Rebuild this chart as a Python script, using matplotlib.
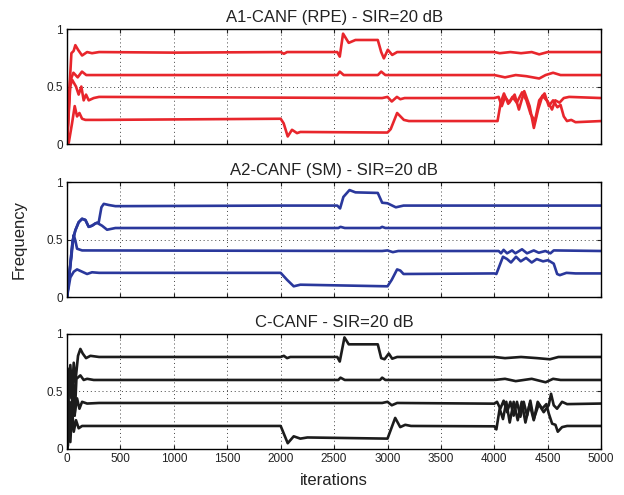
import matplotlib
matplotlib.use("Agg")
import matplotlib.pyplot as plt

plt.rcParams['font.family'] = ['Liberation Sans', 'DejaVu Sans']

# ---- data: (iteration, normalised frequency) ----
titles = ['A1-CANF (RPE) - SIR=20 dB', 'A2-CANF (SM) - SIR=20 dB', 'C-CANF - SIR=20 dB']
colors = ['#e8262c', '#2a389c', '#1c1c1c']
xticks = [0, 500, 1000, 1500, 2000, 2500, 3000, 3500, 4000, 4500, 5000]
yticks = [0, 0.5, 1]
ytick_labels = ['0', '0.5', '1']

rpe_f1 = [(0, 0), (22, 0.47), (41, 0.79), (62, 0.81), (78, 0.86), (103, 0.82), (141, 0.77), (188, 0.80),
          (234, 0.79), (300, 0.80), (1000, 0.795), (2000, 0.80), (2030, 0.785), (2060, 0.80), (2530, 0.80),
          (2553, 0.76), (2584, 0.96), (2637, 0.88), (2700, 0.905), (2909, 0.905), (2941, 0.80), (2966, 0.745),
          (3003, 0.82), (3044, 0.775), (3090, 0.80), (4000, 0.80), (4050, 0.79), (4150, 0.80), (4250, 0.79),
          (4350, 0.80), (4420, 0.78), (4500, 0.80), (4600, 0.80), (5000, 0.80)]
rpe_f2 = [(0, 0), (30, 0.55), (60, 0.62), (100, 0.58), (140, 0.63), (180, 0.60), (300, 0.60), (2530, 0.60),
          (2553, 0.63), (2590, 0.60), (2910, 0.60), (2941, 0.63), (2980, 0.60), (4000, 0.60), (4100, 0.58),
          (4200, 0.60), (4300, 0.59), (4420, 0.57), (4480, 0.60), (4550, 0.62), (4620, 0.60), (5000, 0.60)]
rpe_f3 = [(0, 0), (30, 0.50), (47, 0.56), (84, 0.50), (109, 0.43), (134, 0.50), (156, 0.38), (178, 0.43),
          (203, 0.38), (250, 0.40), (300, 0.41), (2950, 0.40), (3000, 0.41), (3040, 0.37), (3088, 0.41),
          (3120, 0.39), (3160, 0.40), (4000, 0.40), (4040, 0.41), (4070, 0.33), (4100, 0.41), (4140, 0.36),
          (4190, 0.43), (4230, 0.30), (4280, 0.46), (4330, 0.33), (4370, 0.14), (4410, 0.30), (4450, 0.42),
          (4500, 0.37), (4540, 0.30), (4570, 0.38), (4610, 0.36), (4650, 0.40), (4700, 0.41), (5000, 0.40)]
rpe_f4 = [(0, 0), (16, 0.01), (47, 0.18), (72, 0.33), (94, 0.24), (116, 0.27), (141, 0.22), (172, 0.21),
          (300, 0.21), (2000, 0.22), (2028, 0.18), (2066, 0.066), (2106, 0.124), (2153, 0.095), (2184, 0.105),
          (3000, 0.10), (3030, 0.13), (3090, 0.27), (3153, 0.21), (3200, 0.20), (4000, 0.20), (4030, 0.20),
          (4060, 0.36), (4090, 0.44), (4130, 0.35), (4170, 0.41), (4210, 0.36), (4260, 0.45), (4300, 0.38),
          (4340, 0.26), (4380, 0.20), (4420, 0.38), (4470, 0.44), (4510, 0.33), (4550, 0.38), (4590, 0.32),
          (4620, 0.34), (4650, 0.24), (4680, 0.20), (4720, 0.21), (4760, 0.19), (5000, 0.20)]

sm_f1 = [(0, 0), (16, 0.14), (41, 0.38), (53, 0.49), (78, 0.58), (109, 0.65), (141, 0.68), (172, 0.67),
         (203, 0.61), (234, 0.62), (266, 0.64), (297, 0.65), (322, 0.78), (344, 0.81), (391, 0.80),
         (453, 0.79), (2000, 0.795), (2530, 0.795), (2556, 0.77), (2587, 0.87), (2644, 0.93), (2700, 0.91),
         (2909, 0.905), (2950, 0.82), (3000, 0.815), (3078, 0.78), (3150, 0.795), (5000, 0.795)]
sm_f2 = [(0, 0), (16, 0.14), (41, 0.38), (53, 0.49), (78, 0.58), (109, 0.65), (141, 0.68), (172, 0.67),
         (203, 0.61), (234, 0.62), (266, 0.64), (281, 0.645), (328, 0.62), (375, 0.585), (453, 0.60),
         (2540, 0.60), (2560, 0.61), (2600, 0.60), (2930, 0.60), (2950, 0.61), (2980, 0.60), (5000, 0.60)]
sm_f3 = [(0, 0), (22, 0.20), (41, 0.35), (53, 0.46), (63, 0.54), (78, 0.49), (94, 0.42), (141, 0.405),
         (2950, 0.40), (3000, 0.405), (3050, 0.39), (3100, 0.40), (4000, 0.40), (4041, 0.40), (4062, 0.38),
         (4087, 0.41), (4119, 0.38), (4166, 0.405), (4197, 0.38), (4259, 0.415), (4306, 0.38), (4369, 0.405),
         (4416, 0.385), (4478, 0.40), (4525, 0.38), (4556, 0.405), (5000, 0.40)]
sm_f4 = [(0, 0), (31, 0.17), (63, 0.22), (94, 0.24), (141, 0.22), (188, 0.20), (234, 0.215), (300, 0.21),
         (2000, 0.21), (2059, 0.15), (2122, 0.093), (2184, 0.107), (3000, 0.093), (3040, 0.15), (3090, 0.24),
         (3120, 0.23), (3150, 0.20), (4000, 0.205), (4019, 0.20), (4056, 0.29), (4081, 0.35), (4119, 0.33),
         (4156, 0.30), (4203, 0.35), (4247, 0.31), (4297, 0.34), (4350, 0.30), (4397, 0.33), (4456, 0.31),
         (4503, 0.32), (4556, 0.29), (4588, 0.20), (4613, 0.19), (4675, 0.21), (4760, 0.205), (5000, 0.205)]

c_f1 = [(0, 0), (16, 0.55), (31, 0.73), (47, 0.50), (63, 0.75), (78, 0.58), (103, 0.81), (125, 0.87),
        (147, 0.83), (178, 0.79), (219, 0.81), (300, 0.80), (2000, 0.80), (2030, 0.81), (2060, 0.79),
        (2090, 0.80), (2530, 0.80), (2553, 0.76), (2597, 0.97), (2637, 0.91), (2909, 0.91), (2941, 0.79),
        (2972, 0.78), (3012, 0.83), (3044, 0.785), (3090, 0.80), (4000, 0.80), (4100, 0.79), (4250, 0.80),
        (4400, 0.79), (4520, 0.78), (4600, 0.80), (5000, 0.80)]
c_f2 = [(0, 0), (22, 0.70), (41, 0.44), (56, 0.67), (72, 0.29), (88, 0.61), (125, 0.64), (156, 0.60),
        (188, 0.61), (250, 0.60), (2540, 0.60), (2560, 0.62), (2600, 0.60), (2930, 0.60), (2950, 0.62),
        (2980, 0.60), (4000, 0.60), (4100, 0.61), (4200, 0.59), (4350, 0.61), (4480, 0.58), (4550, 0.61),
        (4620, 0.60), (5000, 0.60)]
c_f3 = [(0, 0), (9, 0.03), (22, 0.41), (38, 0.18), (53, 0.55), (69, 0.29), (94, 0.44), (116, 0.35),
        (141, 0.41), (188, 0.395), (300, 0.40), (2950, 0.40), (3000, 0.41), (3040, 0.38), (3090, 0.40),
        (4000, 0.394), (4025, 0.41), (4056, 0.35), (4087, 0.42), (4119, 0.32), (4150, 0.41), (4181, 0.29),
        (4212, 0.41), (4244, 0.28), (4275, 0.41), (4306, 0.29), (4337, 0.42), (4369, 0.26), (4416, 0.39),
        (4462, 0.32), (4509, 0.38), (4531, 0.48), (4556, 0.38), (4587, 0.35), (4634, 0.41), (4681, 0.39),
        (5000, 0.395)]
c_f4 = [(0, 0), (16, 0.29), (31, 0.06), (47, 0.35), (63, 0.15), (84, 0.25), (109, 0.18), (141, 0.20),
        (300, 0.20), (2000, 0.20), (2066, 0.05), (2122, 0.11), (2184, 0.09), (2250, 0.10), (3000, 0.09),
        (3072, 0.27), (3119, 0.19), (3166, 0.21), (3220, 0.20), (4000, 0.197), (4019, 0.17), (4050, 0.35),
        (4081, 0.26), (4112, 0.41), (4144, 0.23), (4181, 0.41), (4219, 0.25), (4256, 0.41), (4291, 0.23),
        (4331, 0.39), (4369, 0.25), (4406, 0.41), (4447, 0.35), (4487, 0.39), (4509, 0.31), (4541, 0.22),
        (4572, 0.21), (4594, 0.15), (4634, 0.19), (4681, 0.20), (5000, 0.20)]

panels = [[rpe_f1, rpe_f2, rpe_f3, rpe_f4],
          [sm_f1, sm_f2, sm_f3, sm_f4],
          [c_f1, c_f2, c_f3, c_f4]]

fig = plt.figure(figsize=(6.24, 4.95), dpi=100)
bottoms = [0.709, 0.400, 0.093]
axes = []
for i in range(3):
    ax = fig.add_axes([0.1074, bottoms[i], 0.856, 0.2323])
    axes.append(ax)
    for track in panels[i]:
        xs = [p[0] for p in track]
        ys = [p[1] for p in track]
        ax.plot(xs, ys, color=colors[i], lw=1.9, solid_joinstyle='round')
    ax.set_xlim(0, 5000)
    ax.set_ylim(0, 1)
    ax.set_xticks(xticks)
    ax.set_yticks(yticks)
    ax.set_yticklabels(ytick_labels)
    ax.grid(True, linestyle=(0, (1, 3)), color='#444444', lw=0.7)
    ax.tick_params(direction='in', top=True, right=True, labelsize=8.5, length=3, pad=3, colors='#222222')
    for s in ax.spines.values():
        s.set_linewidth(1.0)
    ax.set_title(titles[i], fontsize=12, pad=5, color='#222222')
    if i < 2:
        ax.set_xticklabels([])

axes[1].set_ylabel('Frequency', fontsize=12, labelpad=14, color='#222222')
axes[2].set_xlabel('iterations', fontsize=12, labelpad=6, color='#222222')

fig.savefig('out.png', dpi=100)
